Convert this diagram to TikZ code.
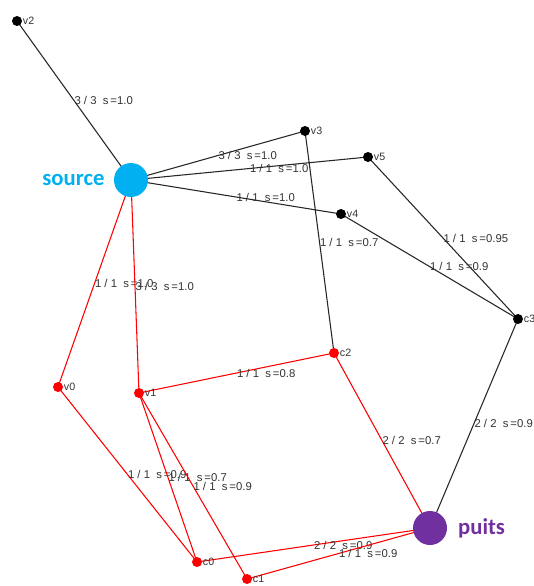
\documentclass[tikz,border=0pt]{standalone}
\usepackage{fontspec}
\setmainfont{Liberation Sans}
\newfontfamily\namefont{Carlito}
\usetikzlibrary{positioning,backgrounds}
\definecolor{srccol}{RGB}{0,176,240}
\definecolor{sinkcol}{RGB}{112,48,160}
\definecolor{pathred}{RGB}{255,0,0}

\begin{document}
\begin{tikzpicture}[x=0.75pt, y=-0.75pt,
  dot/.style={circle, fill=#1, inner sep=0pt, minimum size=7.5pt},
  term/.style={circle, fill=#1, inner sep=0pt, minimum size=25.5pt},
  termname/.style={font=\namefont\bfseries\fontsize{17}{18}\selectfont, text=#1, inner sep=0pt},
  every label/.style={font=\fontsize{8}{9}\selectfont, text=black!80, inner sep=0.3pt},
  edge/.style={draw=black!85, line width=0.8pt},
  redge/.style={draw=pathred, line width=0.8pt},
  flow/.style={font=\fontsize{8.5}{9}\selectfont, text=black!80, anchor=west, inner sep=0pt},
]
\clip (0,0) rectangle (533,586);

% vertices
\node[term=srccol]  (src) at (131,180) {};
\node[term=sinkcol] (snk) at (430,528) {};
\node[termname=srccol,  left=6.75pt of src]  (srclbl) {source};
\node[termname=sinkcol, right=8pt of snk]    (snklbl) {puits};

\node[dot=black, label=east:v2] (v2) at (17,21) {};
\node[dot=black, label=east:v3] (v3) at (305,131) {};
\node[dot=black, label=east:v5] (v5) at (368,157) {};
\node[dot=black, label=east:v4] (v4) at (341,214) {};
\node[dot=black, label=east:c3] (c3) at (518,319) {};
\node[dot=pathred, label=east:c2] (c2) at (334,353) {};
\node[dot=pathred, label=east:v0] (v0) at (58,387) {};
\node[dot=pathred, label=east:v1] (v1) at (139,393) {};
\node[dot=pathred, label=east:c0] (c0) at (197,562) {};
\node[dot=pathred, label=east:c1] (c1) at (247,579) {};

% arcs with flow / capacity
\begin{scope}[on background layer]
\draw[edge] (src.center) -- node[flow] {3 / 3 \ s\,=1.0} (v2.center);
\draw[edge] (src.center) -- node[flow] {3 / 3 \ s\,=1.0} (v3.center);
\draw[edge] (src.center) -- node[flow] {1 / 1 \ s\,=1.0} (v5.center);
\draw[edge] (src.center) -- node[flow] {1 / 1 \ s\,=1.0} (v4.center);
\draw[edge] (v3.center)  -- node[flow] {1 / 1 \ s\,=0.7} (c2.center);
\draw[edge] (v5.center)  -- node[flow] {1 / 1 \ s\,=0.95} (c3.center);
\draw[edge] (v4.center)  -- node[flow] {1 / 1 \ s\,=0.9} (c3.center);
\draw[edge] (c3.center)  -- node[flow] {2 / 2 \ s\,=0.9} (snk.center);

\draw[redge] (src.center) -- node[flow] {1 / 1 \ s\,=1.0} (v0.center);
\draw[redge] (src.center) -- node[flow] {3 / 3 \ s\,=1.0} (v1.center);
\draw[redge] (v1.center)  -- node[flow] {1 / 1 \ s\,=0.8} (c2.center);
\draw[redge] (c2.center)  -- node[flow] {2 / 2 \ s\,=0.7} (snk.center);
\draw[redge] (v0.center)  -- node[flow] {1 / 1 \ s\,=0.9} (c0.center);
\draw[redge] (v1.center)  -- node[flow] {1 / 1 \ s\,=0.7} (c0.center);
\draw[redge] (v1.center)  -- node[flow] {1 / 1 \ s\,=0.9} (c1.center);
\draw[redge] (c0.center)  -- node[flow] {2 / 2 \ s\,=0.9} (snk.center);
\draw[redge] (c1.center)  -- node[flow] {1 / 1 \ s\,=0.9} (snk.center);
\end{scope}
\end{tikzpicture}
\end{document}
